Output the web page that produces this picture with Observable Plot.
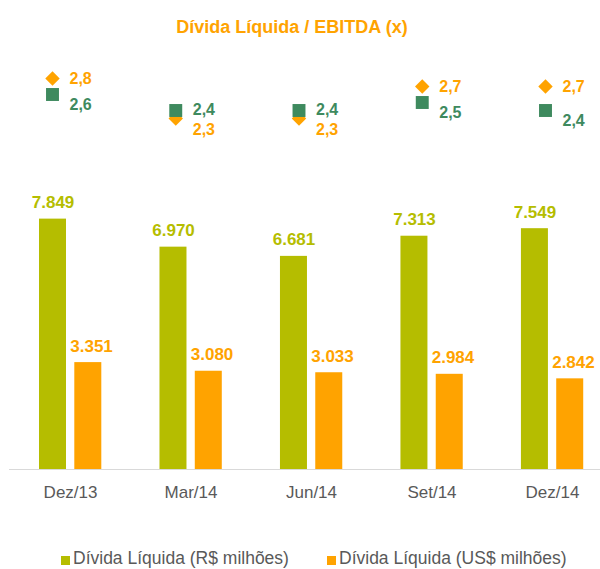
<!DOCTYPE html>
<html>
<head>
<meta charset="utf-8">
<script src="https://cdn.jsdelivr.net/npm/d3@7"></script>
<script src="https://cdn.jsdelivr.net/npm/@observablehq/plot@0.6"></script>
<style>
  html, body { margin: 0; padding: 0; background: #ffffff; }
  body { font-family: "Liberation Sans", Arial, sans-serif; }
  #wrap { position: relative; width: 600px; height: 569px; overflow: hidden; background: #fff; }
  #title { position: absolute; left: 0; top: 17px; width: 584px; text-align: center;
           font-size: 18px; line-height: 20px; font-weight: bold; color: #ffa300; }
  #markers { position: absolute; left: 0; top: 0; }
  #bars { position: absolute; left: 0; top: 150px; }
  .leg { position: absolute; top: 548px; font-size: 17.5px; line-height: 20px; color: #595959; white-space: nowrap; }
  .sw { position: absolute; width: 9px; height: 9px; top: 556px; }
  svg { background: transparent !important; }
</style>
</head>
<body>
<div id="wrap">
  <div id="title">Dívida Líquida / EBITDA (x)</div>
  <div id="markers"></div>
  <div id="bars"></div>
  <div class="sw" style="left:61px;background:#b5bd00"></div>
  <div class="leg" style="left:73px">Dívida Líquida (R$ milhões)</div>
  <div class="sw" style="left:327px;background:#ffa300"></div>
  <div class="leg" style="left:339px">Dívida Líquida (US$ milhões)</div>
</div>
<script>
// ---- data ----
const categories = ["Dez/13", "Mar/14", "Jun/14", "Set/14", "Dez/14"];
const dividaBRL = [7849, 6970, 6681, 7313, 7549];      // R$ milhões
const dividaUSD = [3351, 3080, 3033, 2984, 2842];      // US$ milhões
const ebitdaOrange = [2.8, 2.3, 2.3, 2.7, 2.7];        // losango laranja
const ebitdaGreen = [2.6, 2.4, 2.4, 2.5, 2.4];         // quadrado verde

const GREEN = "#b5bd00";
const ORANGE = "#ffa300";
const DKGREEN = "#3e8a5e";
const FONT = "Liberation Sans, Arial, sans-serif";

const loc = d3.formatLocale({decimal: ",", thousands: ".", grouping: [3], currency: ["R$", ""]});
const fmtInt = loc.format(",d");
const fmtRatio = loc.format(".1f");

const rows = categories.map((c, i) => ({cat: c, brl: dividaBRL[i], usd: dividaUSD[i]}));
const diamonds = categories.map((c, i) => ({cat: c, v: ebitdaOrange[i], upper: ebitdaOrange[i] >= ebitdaGreen[i]}));
const squares = categories.map((c, i) => ({cat: c, v: ebitdaGreen[i], upper: ebitdaGreen[i] > ebitdaOrange[i]}));

const lbl = {fontSize: 16, fontWeight: "bold", textAnchor: "start", dx: 17};

const markers = Plot.plot({
  width: 600, height: 150, margin: 0,
  style: {fontFamily: FONT, background: "transparent", overflow: "visible"},
  x: {type: "point", domain: categories, range: [52, 545], padding: 0, round: false, axis: null},
  y: {domain: [2, 3], range: [142, 62], axis: null},
  marks: [
    Plot.dot(diamonds, {x: "cat", y: "v", symbol: "diamond2", r: 6.5, fill: ORANGE, stroke: "none"}),
    Plot.dot(squares, {x: "cat", y: "v", symbol: "square", r: 7.3, fill: DKGREEN, stroke: "none"}),
    Plot.text(diamonds, {filter: d => d.upper, x: "cat", y: "v", text: d => fmtRatio(d.v), fill: ORANGE, dy: 0, ...lbl}),
    Plot.text(diamonds, {filter: d => !d.upper, x: "cat", y: "v", text: d => fmtRatio(d.v), fill: ORANGE, dy: 11, ...lbl}),
    Plot.text(squares, {filter: d => d.upper, x: "cat", y: "v", text: d => fmtRatio(d.v), fill: DKGREEN, dy: -1, ...lbl}),
    Plot.text(squares, {filter: d => !d.upper, x: "cat", y: "v", text: d => fmtRatio(d.v), fill: DKGREEN, dy: 10, ...lbl})
  ]
});
document.getElementById("markers").appendChild(markers);

const bw = 602.4 / 5;
const bars = Plot.plot({
  width: 600, height: 360,
  marginLeft: 9, marginRight: 0, marginTop: 0, marginBottom: 41,
  style: {fontFamily: FONT, background: "transparent", fontSize: "17px", overflow: "visible"},
  x: {domain: categories, range: [9.8, 612.2], padding: 0, round: false, axis: null},
  y: {domain: [0, 10000], range: [319, 0], axis: null},
  marks: [
    Plot.barY(rows, {x: "cat", y: "brl", fill: GREEN, insetLeft: 29.2, insetRight: bw - 56.2}),
    Plot.barY(rows, {x: "cat", y: "usd", fill: ORANGE, insetLeft: 64.5, insetRight: bw - 91.5}),
    Plot.ruleY([0], {stroke: "#d9d9d9", strokeWidth: 1}),
    Plot.text(rows, {x: "cat", y: "brl", text: d => fmtInt(d.brl), dx: -17.5, dy: -11, lineAnchor: "bottom",
      fill: GREEN, fontSize: 17, fontWeight: "bold"}),
    Plot.text(rows, {x: "cat", y: "usd", text: d => fmtInt(d.usd), dx: 21, dy: -11, lineAnchor: "bottom",
      fill: ORANGE, fontSize: 17, fontWeight: "bold"}),
    Plot.axisX({tickSize: 0, tickPadding: 16, fontSize: 17, fill: "#595959", label: null})
  ]
});
document.getElementById("bars").appendChild(bars);
</script>
</body>
</html>
